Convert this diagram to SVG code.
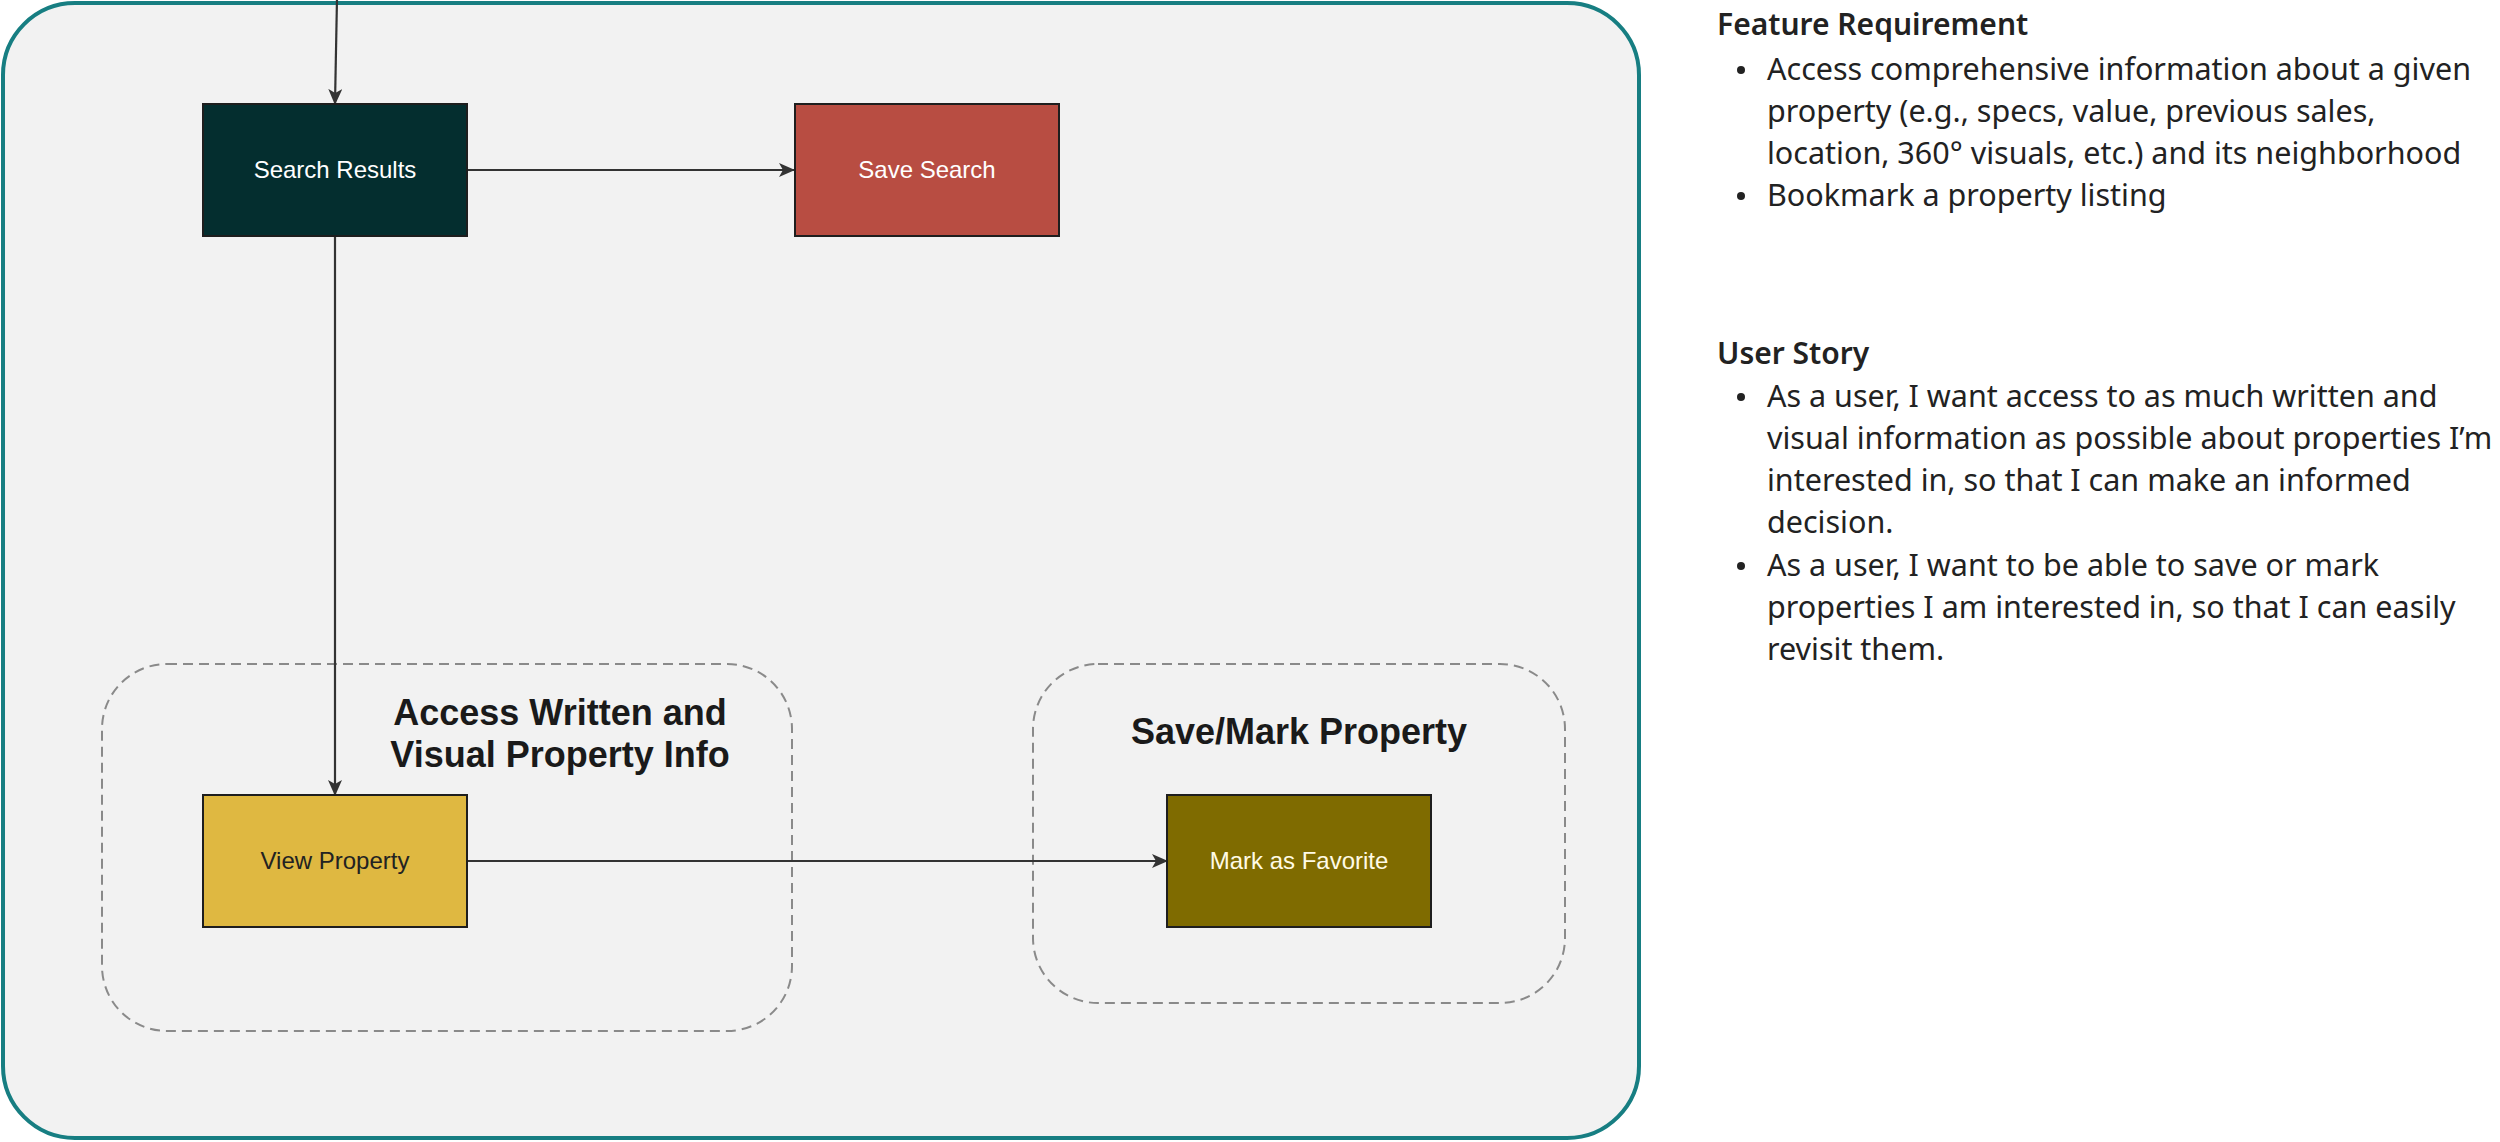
<svg xmlns="http://www.w3.org/2000/svg" width="2500" height="1142" viewBox="0 0 2500 1142">
<style>
.node-label{font-family:"Liberation Sans",Arial,sans-serif;font-size:24px;text-anchor:middle}
.group-title{font-family:"Liberation Sans",Arial,sans-serif;font-size:36px;font-weight:bold;fill:#1a1a1a;text-anchor:middle}
.group-box{fill:none;stroke:#8a8a8a;stroke-width:2;stroke-dasharray:10 6}
.conn{fill:none;stroke:#333333;stroke-width:2.2}
.side-h{font-family:"Noto Sans","Open Sans",sans-serif;font-size:30px;font-weight:600;fill:#222222}
.side{font-family:"Noto Sans","Open Sans",sans-serif;font-size:30.5px;fill:#222222}
.node{stroke:#1e1e1e;stroke-width:2}
</style>
<defs>
<marker id="arrow" viewBox="0 0 16 14" refX="15" refY="7" markerWidth="16" markerHeight="14" markerUnits="userSpaceOnUse" orient="auto">
<path d="M0,0 L16,7 L0,14 L4,7 Z" fill="#333333"/>
</marker>
</defs>
<rect width="2500" height="1142" fill="#ffffff"/>
<g id="container">
<rect x="3" y="3" width="1636" height="1135" rx="72" ry="72" fill="#f2f2f2" stroke="#177e82" stroke-width="4"/>
</g>
<g id="group-access">
<rect class="group-box" x="102" y="664" width="690" height="367" rx="65" ry="65"/>
<text class="group-title" x="560" y="725">Access Written and</text>
<text class="group-title" x="560" y="767">Visual Property Info</text>
</g>
<g id="group-save">
<rect class="group-box" x="1033" y="664" width="532" height="339" rx="65" ry="65"/>
<text class="group-title" x="1299" y="744">Save/Mark Property</text>
</g>
<g id="connectors">
<line class="conn" x1="337" y1="-2" x2="335" y2="104" marker-end="url(#arrow)"/>
<line class="conn" x1="467" y1="170" x2="794" y2="170" marker-end="url(#arrow)"/>
<line class="conn" x1="335" y1="236" x2="335" y2="795" marker-end="url(#arrow)"/>
<line class="conn" x1="467" y1="861" x2="1167" y2="861" marker-end="url(#arrow)"/>
</g>
<g id="search-results">
<rect class="node" x="203" y="104" width="264" height="132" fill="#042e2f"/>
<text class="node-label" x="335" y="178" fill="#ffffff">Search Results</text>
</g>
<g id="save-search">
<rect class="node" x="795" y="104" width="264" height="132" fill="#b84d42" stroke="#3a1a14"/>
<text class="node-label" x="927" y="178" fill="#ffffff">Save Search</text>
</g>
<g id="view-property">
<rect class="node" x="203" y="795" width="264" height="132" fill="#dfb841"/>
<text class="node-label" x="335" y="869" fill="#222222">View Property</text>
</g>
<g id="mark-favorite">
<rect class="node" x="1167" y="795" width="264" height="132" fill="#7f6b00"/>
<text class="node-label" x="1299" y="869" fill="#fffbe6">Mark as Favorite</text>
</g>
<g id="notes">
<text class="side-h" x="1717" y="35">Feature Requirement</text>
<circle cx="1741" cy="70" r="4" fill="#222222"/>
<text class="side" x="1767" y="80">Access comprehensive information about a given</text>
<text class="side" x="1767" y="122">property (e.g., specs, value, previous sales,</text>
<text class="side" x="1767" y="164">location, 360° visuals, etc.) and its neighborhood</text>
<circle cx="1741" cy="196" r="4" fill="#222222"/>
<text class="side" x="1767" y="206">Bookmark a property listing</text>
<text class="side-h" x="1717" y="364">User Story</text>
<circle cx="1741" cy="397" r="4" fill="#222222"/>
<text class="side" x="1767" y="407">As a user, I want access to as much written and</text>
<text class="side" x="1767" y="449">visual information as possible about properties I’m</text>
<text class="side" x="1767" y="491">interested in, so that I can make an informed</text>
<text class="side" x="1767" y="533">decision.</text>
<circle cx="1741" cy="566" r="4" fill="#222222"/>
<text class="side" x="1767" y="576">As a user, I want to be able to save or mark</text>
<text class="side" x="1767" y="618">properties I am interested in, so that I can easily</text>
<text class="side" x="1767" y="660">revisit them.</text>
</g>
</svg>
